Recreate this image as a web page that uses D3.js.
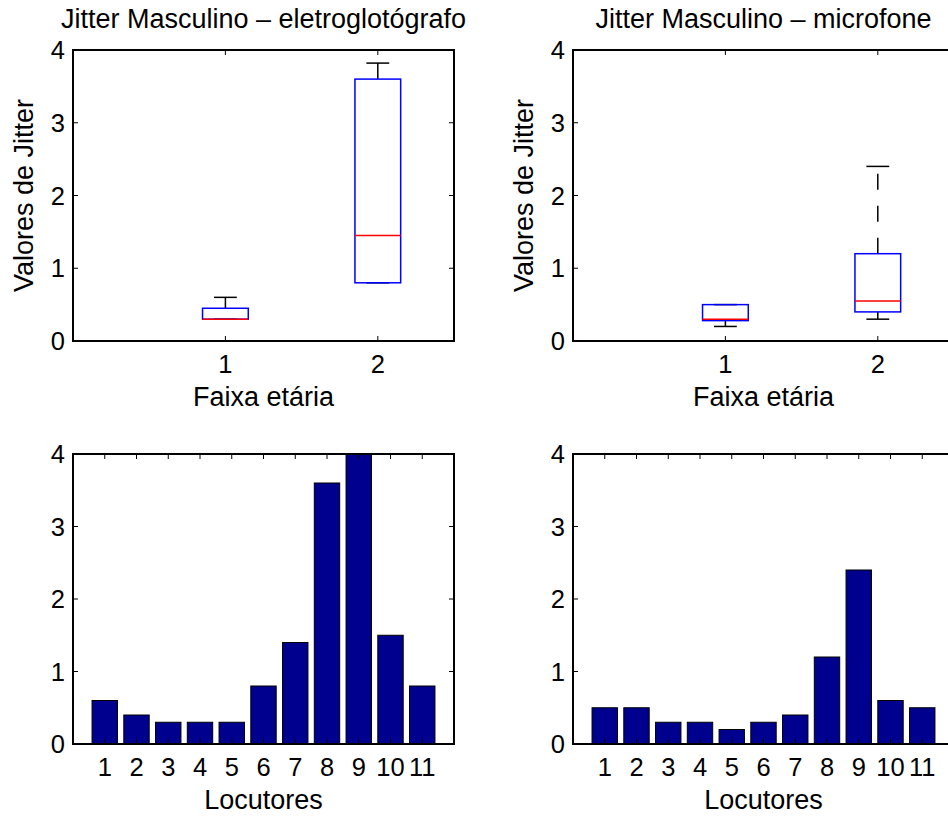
<!DOCTYPE html>
<html>
<head>
<meta charset="utf-8">
<script src="https://cdn.jsdelivr.net/npm/d3@7"></script>
<style>
  html, body { margin: 0; padding: 0; background: #fff; }
  svg { display: block; font-family: "Liberation Sans", Arial, Helvetica, sans-serif; }
</style>
</head>
<body>
<svg id="fig" width="948" height="816"></svg>
<script>
// Age groups (boxplot categories)
const groups = [1, 2];
// Boxplot summaries per group: lower whisker, Q1, median, Q3, upper whisker
const egg_lower  = [0.3, 0.8];
const egg_q1     = [0.3, 0.8];
const egg_median = [0.3, 1.45];
const egg_q3     = [0.45, 3.6];
const egg_upper  = [0.6, 3.82];

const mic_lower  = [0.2, 0.3];
const mic_q1     = [0.28, 0.4];
const mic_median = [0.3, 0.55];
const mic_q3     = [0.5, 1.2];
const mic_upper  = [0.5, 2.4];

// Speakers and their jitter values
const speakers = [1, 2, 3, 4, 5, 6, 7, 8, 9, 10, 11];
const jitter_egg = [0.6, 0.4, 0.3, 0.3, 0.3, 0.8, 1.4, 3.6, 4.0, 1.5, 0.8];
const jitter_mic = [0.5, 0.5, 0.3, 0.3, 0.2, 0.3, 0.4, 1.2, 2.4, 0.6, 0.5];

const yTicks = [0, 1, 2, 3, 4];

const svg = d3.select("#fig");
const W = 381, H_TOP = 291, H_BOT = 290;
const TICK = 5;
const TICK_FONT = 25.5, LABEL_FONT = 27, TITLE_FONT = 27;

function frame(g, x, y, w, h, xTicks, yTickVals, xLabel, yLabel, title) {
  // tick marks pointing inwards on all four sides
  const tk = g.append("g").attr("stroke", "#000").attr("stroke-width", 1);
  xTicks.forEach(t => {
    const px = x(t);
    tk.append("line").attr("x1", px).attr("x2", px).attr("y1", h).attr("y2", h - TICK);
    tk.append("line").attr("x1", px).attr("x2", px).attr("y1", 0).attr("y2", TICK);
  });
  yTickVals.forEach(t => {
    const py = y(t);
    tk.append("line").attr("x1", 0).attr("x2", TICK).attr("y1", py).attr("y2", py);
    tk.append("line").attr("x1", w).attr("x2", w - TICK).attr("y1", py).attr("y2", py);
  });
  g.append("rect").attr("x", 0).attr("y", 0).attr("width", w).attr("height", h)
    .attr("fill", "none").attr("stroke", "#000").attr("stroke-width", 2);

  // tick labels
  g.append("g").selectAll("text").data(yTickVals).join("text")
    .attr("x", -8).attr("y", d => y(d)).attr("dy", "0.36em")
    .attr("text-anchor", "end").attr("font-size", TICK_FONT).text(d => d);
  g.append("g").selectAll("text").data(xTicks).join("text")
    .attr("x", d => x(d)).attr("y", h + 32)
    .attr("text-anchor", "middle").attr("font-size", TICK_FONT).text(d => d);

  if (xLabel) g.append("text").attr("x", w / 2).attr("y", h + 65)
    .attr("text-anchor", "middle").attr("font-size", LABEL_FONT).text(xLabel);
  if (yLabel) g.append("text").attr("transform", `translate(-40,${h / 2}) rotate(-90)`)
    .attr("text-anchor", "middle").attr("font-size", LABEL_FONT).text(yLabel);
  if (title) g.append("text").attr("x", w / 2).attr("y", -22)
    .attr("text-anchor", "middle").attr("font-size", TITLE_FONT).text(title);
}

function boxPanel(left, top, title, lower, q1, med, q3, upper) {
  const g = svg.append("g").attr("transform", `translate(${left},${top})`);
  const x = d3.scaleLinear().domain([0, 2.5]).range([0, W]);
  const y = d3.scaleLinear().domain([0, 4]).range([H_TOP, 0]);
  const bw = x(0.3) - x(0);
  const cw = x(0.15) - x(0);

  groups.forEach((grp, i) => {
    const cx = x(grp);
    // whiskers (dashed, starting at box edge)
    g.append("line").attr("x1", cx).attr("x2", cx).attr("y1", y(q3[i])).attr("y2", y(upper[i]))
      .attr("stroke", "#000").attr("stroke-width", 1.5).attr("stroke-dasharray", "16,16");
    g.append("line").attr("x1", cx).attr("x2", cx).attr("y1", y(q1[i])).attr("y2", y(lower[i]))
      .attr("stroke", "#000").attr("stroke-width", 1.5).attr("stroke-dasharray", "16,16");
    // whisker caps
    [upper[i], lower[i]].forEach(v => {
      g.append("line").attr("x1", cx - cw / 2).attr("x2", cx + cw / 2)
        .attr("y1", y(v)).attr("y2", y(v)).attr("stroke", "#000").attr("stroke-width", 1.5);
    });
    // box
    g.append("rect").attr("x", cx - bw / 2).attr("y", y(q3[i]))
      .attr("width", bw).attr("height", y(q1[i]) - y(q3[i]))
      .attr("fill", "none").attr("stroke", "#0000ff").attr("stroke-width", 1.5);
    // median
    g.append("line").attr("x1", cx - bw / 2).attr("x2", cx + bw / 2)
      .attr("y1", y(med[i])).attr("y2", y(med[i])).attr("stroke", "#ff0000").attr("stroke-width", 1.5);
  });

  frame(g, x, y, W, H_TOP, groups, yTicks, "Faixa etária", "Valores de Jitter", title);
}

function barPanel(left, top, values) {
  const g = svg.append("g").attr("transform", `translate(${left},${top})`);
  const x = d3.scaleLinear().domain([0, 12]).range([0, W]);
  const y = d3.scaleLinear().domain([0, 4]).range([H_BOT, 0]);
  const bw = x(0.8) - x(0);

  g.append("g").selectAll("rect").data(speakers).join("rect")
    .attr("x", d => x(d) - bw / 2)
    .attr("y", (d, i) => y(values[i]))
    .attr("width", bw)
    .attr("height", (d, i) => y(0) - y(values[i]))
    .attr("fill", "#00008f").attr("stroke", "#000").attr("stroke-width", 1);

  frame(g, x, y, W, H_BOT, speakers, yTicks, "Locutores", null, null);
}

boxPanel(73, 50, "Jitter Masculino – eletroglotógrafo", egg_lower, egg_q1, egg_median, egg_q3, egg_upper);
boxPanel(573, 50, "Jitter Masculino – microfone", mic_lower, mic_q1, mic_median, mic_q3, mic_upper);
barPanel(73, 454, jitter_egg);
barPanel(573, 454, jitter_mic);
</script>
</body>
</html>
